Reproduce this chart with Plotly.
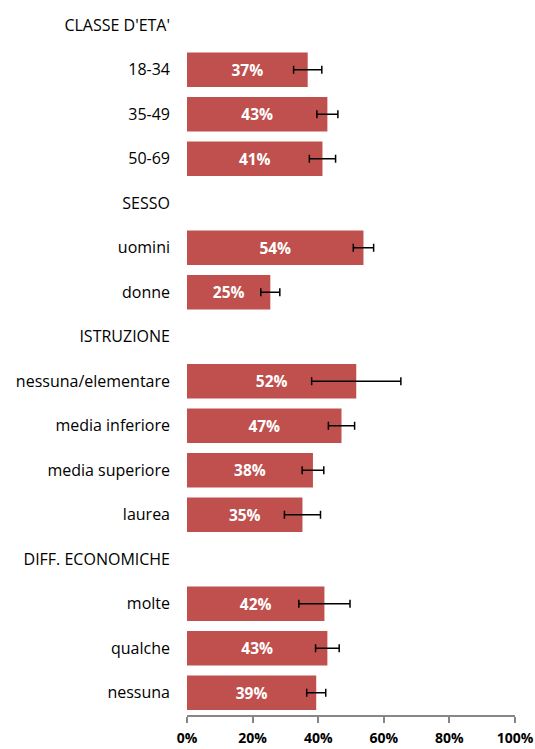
import plotly.graph_objects as go

categories = ["CLASSE D'ETA'", "18-34", "35-49", "50-69",
              "SESSO", "uomini", "donne",
              "ISTRUZIONE", "nessuna/elementare", "media inferiore", "media superiore", "laurea",
              "DIFF. ECONOMICHE", "molte", "qualche", "nessuna"]
values = [None, 36.8, 42.8, 41.3,
          None, 53.8, 25.4,
          None, 51.6, 47.1, 38.4, 35.2,
          None, 41.9, 42.8, 39.4]
errors = [None, 4.3, 3.2, 4.0,
          None, 3.1, 2.9,
          None, 13.6, 4.0, 3.3, 5.5,
          None, 7.8, 3.6, 2.9]
tick_vals = [0, 20, 40, 60, 80, 100]
tick_text = ["0%", "20%", "40%", "60%", "80%", "100%"]

labels = ["" if v is None else f"{round(v):.0f}%" for v in values]

fig = go.Figure(go.Bar(
    y=categories, x=values, orientation="h",
    marker=dict(color="#C0504D", line=dict(width=0)),
    text=labels, textposition="inside", insidetextanchor="middle",
    textfont=dict(color="white", size=15.5, family="Open Sans", weight="bold"),
    error_x=dict(type="data", array=errors, color="black", thickness=1.5, width=4),
    cliponaxis=False, hoverinfo="skip",
))

fig.update_layout(
    width=535, height=749,
    margin=dict(l=187, r=20, t=3, b=34),
    paper_bgcolor="white", plot_bgcolor="white",
    bargap=0.22, showlegend=False,
    font=dict(family="Open Sans", color="black"),
)
fig.update_yaxes(
    categoryorder="array", categoryarray=categories, autorange="reversed",
    showgrid=False, zeroline=False, showline=False, ticks="",
    tickfont=dict(size=16, family="Open Sans", color="black"),
    ticklabelstandoff=16, automargin=False,
)
fig.update_xaxes(
    range=[0, 100], tickvals=tick_vals, ticktext=tick_text,
    showgrid=False, zeroline=False, showline=True, linecolor="#868686", linewidth=1.5,
    ticks="outside", ticklen=6, tickcolor="#868686", tickwidth=1.5,
    tickfont=dict(size=14, family="Open Sans", color="black", weight="bold"),
    ticklabelstandoff=3, automargin=False,
)

fig.write_html(
    "out.html",
    config={"displayModeBar": False},
    post_script="document.body.style.margin='0';document.body.style.overflow='hidden';",
)
